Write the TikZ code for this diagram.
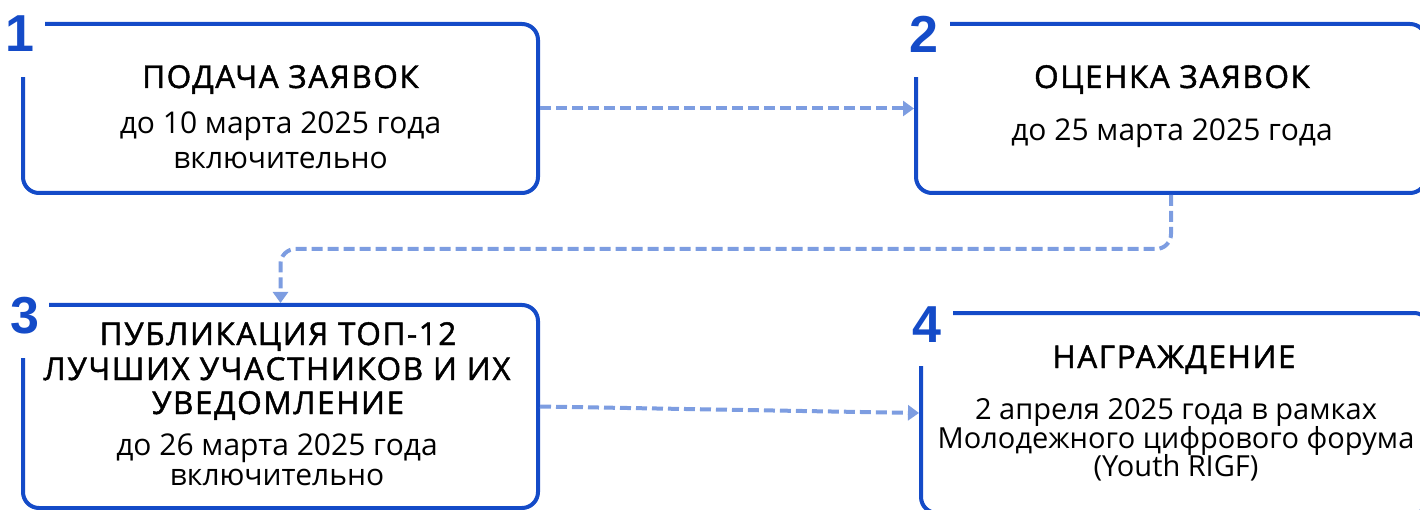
\documentclass[tikz,border=0pt]{standalone}
\usepackage{fontspec}
\setmainfont{Open Sans}
\newfontfamily\titlefont{Open Sans}[LetterSpace=5,FakeBold=1.5]
\newfontfamily\numfont{Liberation Sans}
\usetikzlibrary{arrows.meta}
\definecolor{boxblue}{RGB}{20,75,200}
\definecolor{arrblue}{RGB}{125,157,225}
\begin{document}
\begin{tikzpicture}[x=1pt,y=-1pt,
  stagebox/.style n args={2}{draw=boxblue, line width=4pt, rounded corners=16pt,
    minimum width=#1, minimum height=#2, inner sep=0pt, outer sep=2pt},
  ttl/.style={anchor=base, inner sep=0pt, font=\titlefont\fontsize{31.5}{34}\selectfont},
  bdy/.style={anchor=base, inner sep=0pt, font=\fontsize{30}{30}\selectfont},
  bdysmall/.style={anchor=base, inner sep=0pt, font=\fontsize{29}{30}\selectfont},
  numlbl/.style={anchor=base, inner sep=0pt, text=boxblue, font=\numfont\bfseries\fontsize{52}{52}\selectfont},
  gapcover/.style={fill=white},
  arr/.style={draw=arrblue, line width=4pt, dash pattern=on 11pt off 5pt,
    -{Triangle[length=11pt,width=15pt]}}
]
\useasboundingbox (0,0) rectangle (1420,510);

% boxes
\node[stagebox={515pt}{169pt}] (b1) at (280.5,108.5) {};
\node[stagebox={510pt}{169pt}] (b2) at (1171,108.5) {};
\node[stagebox={515pt}{203pt}] (b3) at (280.5,406.5) {};
\node[stagebox={509pt}{200pt}] (b4) at (1175.5,413) {};

% corner gaps for numbers
\fill[gapcover] (14,15) rectangle (45,77);
\fill[gapcover] (907,15) rectangle (950,77);
\fill[gapcover] (14,296) rectangle (49,358);
\fill[gapcover] (912,304) rectangle (953,366);

% numbers
\node[numlbl] (n1) at (19.5,52) {1};
\node[numlbl] (n2) at (924,53) {2};
\node[numlbl] (n3) at (25,333) {3};
\node[numlbl] (n4) at (927,342) {4};

% box 1 text
\node[ttl] (t1) at (280.5,88) {ПОДАЧА ЗАЯВОК};
\node[bdy] (d1a) at (280.5,134) {до 10 марта 2025 года};
\node[bdy] (d1b) at (280.5,169) {включительно};

% box 2 text
\node[ttl] (t2) at (1172,88) {ОЦЕНКА ЗАЯВОК};
\node[bdy] (d2a) at (1172,141) {до 25 марта 2025 года};

% box 3 text
\node[ttl] (t3a) at (278,345) {ПУБЛИКАЦИЯ ТОП-12};
\node[ttl] (t3b) at (277,380) {ЛУЧШИХ УЧАСТНИКОВ И ИХ};
\node[ttl] (t3c) at (278,414) {УВЕДОМЛЕНИЕ};
\node[bdy] (d3a) at (277,455) {до 26 марта 2025 года};
\node[bdy] (d3b) at (277,485) {включительно};

% box 4 text
\node[ttl] (t4) at (1174,368) {НАГРАЖДЕНИЕ};
\node[bdysmall] (d4a) at (1176,419) {2 апреля 2025 года в рамках};
\node[bdysmall] (d4b) at (1176,448) {Молодежного цифрового форума};
\node[bdysmall] (d4c) at (1176,476) {(Youth RIGF)};

% connectors
\draw[arr] (b1.east) -- (b2.west);
\coordinate (turn) at (0,249);
\draw[arr, rounded corners=15pt] (b2.south) -- (b2.south |- turn) -| (b3.north);
\draw[arr] (b3.east) -- (b4.west);
\end{tikzpicture}
\end{document}
